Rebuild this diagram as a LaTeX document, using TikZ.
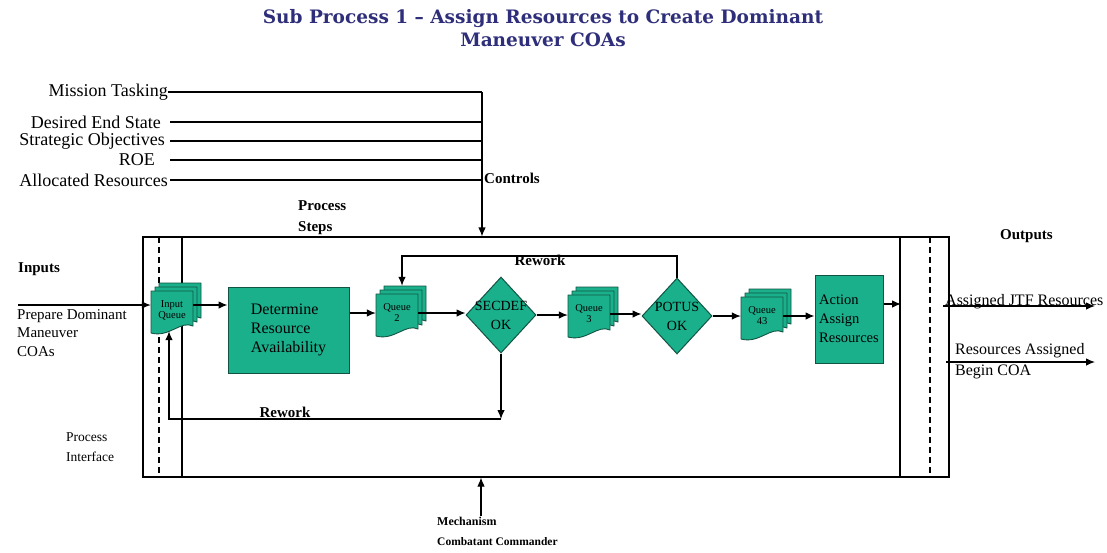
\documentclass[tikz,border=0pt]{standalone}
\usepackage{fontspec}
\setmainfont{Liberation Serif}
\newfontfamily\titlefont{DejaVu Serif}
\usetikzlibrary{arrows.meta,shapes.geometric}

\definecolor{stepfill}{RGB}{26,176,140}
\definecolor{stepline}{RGB}{18,84,66}
\definecolor{titleblue}{RGB}{46,46,122}

\tikzset{
  wire/.style={line width=1.1pt},
  arr/.style={wire,-{Latex[length=9pt,width=7.5pt]}},
  qpage/.style={fill=stepfill,draw=stepline,line width=0.9pt,line join=round},
  qtext/.style={inner sep=0pt,minimum width=42pt,minimum height=42pt,align=center,
    font=\fontsize{10.5}{11}\selectfont},
  stepbox/.style={draw=stepline,fill=stepfill,line width=1pt,inner sep=0pt,align=left},
  decision/.style={diamond,draw=stepline,fill=stepfill,line width=1pt,inner sep=0pt,
    minimum width=70pt,minimum height=76pt},
  ctrl/.style={anchor=east,inner sep=0pt,font=\fontsize{18}{20}\selectfont},
  tag/.style={inner sep=0pt,font=\bfseries\fontsize{15}{21}\selectfont,align=left},
  plain/.style={inner sep=0pt,font=\fontsize{15}{18.5}\selectfont,align=left},
}

% queue: stack of three document pages; #1 name, #2 left x, #3 top y of the front page, #4 text
\newcommand\queuestack[4]{%
  \foreach \d in {8,4,0}{%
    \draw[qpage] ({#2+\d},{#3-\d}) -- ({#2+\d+42},{#3-\d}) -- ({#2+\d+42},{#3-\d+35})
      .. controls ({#2+\d+30},{#3-\d+29}) and ({#2+\d+18},{#3-\d+47}) .. ({#2+\d},{#3-\d+42}) -- cycle;
  }
  \node[qtext] (#1) at ({#2+21},{#3+19}) {#4};
  \node[inner sep=0pt,minimum width=42pt,minimum height=42pt] (#1b) at ({#2+29},{#3+13}) {};
}

\begin{document}
\begin{tikzpicture}[x=1pt,y=-1pt]
\useasboundingbox[fill=white] (0,0) rectangle (1107,552);

% title
\node[align=center,text=titleblue,font=\titlefont\bfseries\fontsize{18.5}{23}\selectfont] (title) at (543,28)
  {Sub Process 1 – Assign Resources to Create Dominant\\Maneuver COAs};

% controls
\node[ctrl] (mt) at (168,92) {Mission Tasking};
\node[ctrl] (des) at (161,122) {Desired End State};
\node[ctrl] (so) at (165,141) {Strategic Objectives};
\node[ctrl] (roe) at (155,160) {ROE};
\node[ctrl] (ar) at (168,180) {Allocated Resources};
\coordinate (lx) at (170,0);
\coordinate (cx) at (482,92);
\draw[wire] (mt.east) -- (cx);
\draw[wire] (lx |- des) -- (cx |- des);
\draw[wire] (lx |- so) -- (cx |- so);
\draw[wire] (lx |- roe) -- (cx |- roe);
\draw[wire] (lx |- ar) -- (cx |- ar);
\node[tag,anchor=west] (ctl) at (484,178) {Controls};

\node[tag,anchor=north west] (steps) at (298,200) {Process\\Steps};

% process frame
\node[draw,wire,inner sep=0pt,minimum width=806pt,minimum height=240pt] (proc) at (546,357) {};
\draw[wire,dash pattern=on 6pt off 4pt] (159,237) -- (159,477);
\draw[wire] (182,237) -- (182,477);
\draw[wire] (900,237) -- (900,477);
\draw[wire,dash pattern=on 6pt off 4pt] (930,237) -- (930,477);
\draw[arr] (cx) -- (cx |- proc.north);

% inputs
\node[tag,anchor=west] (inputs) at (18,269) {Inputs};
\node[plain,anchor=north west] (prep) at (17,309) {Prepare Dominant\\Maneuver\\COAs};
\node[plain,anchor=north west,font=\fontsize{13.5}{20}\selectfont] (pif) at (66,432) {Process\\Interface};

% process steps
\queuestack{inq}{151}{291}{Input\\Queue}
\node[stepbox,minimum width=121pt,minimum height=86pt,font=\fontsize{16}{19}\selectfont] (det) at (288.5,330)
  {Determine\\Resource\\Availability};
\queuestack{q2}{376}{294}{Queue\\2}
\node[decision,label={[align=center,font=\fontsize{14}{19}\selectfont]center:SECDEF\\OK}] (sec) at (501,315) {};
\queuestack{q3}{568}{295}{Queue\\3}
\node[decision,label={[align=center,font=\fontsize{14}{19}\selectfont]center:POTUS\\OK}] (pot) at (677,316) {};
\queuestack{q43}{741}{297}{Queue\\43}
\node[stepbox,minimum width=68pt,minimum height=88pt,font=\fontsize{14.5}{19}\selectfont] (act) at (849,319)
  {Action\\Assign\\Resources};

% flow
\coordinate (inS) at (18,305);
\coordinate (rowIn) at (0,305);
\draw[arr] (inS) -- (inS -| inq.west);
\draw[arr] (inq.east |- rowIn) -- (det.west |- rowIn);
\draw[arr] (det.east |- q2.west) -- (q2.west);
\draw[arr] (q2.east) -- (q2.east -| sec.west);
\draw[arr] (sec.east) -- (sec.east -| q3.west);
\draw[arr] (q3.east) -- (q3.east -| pot.west);
\draw[arr] (pot.east) -- (pot.east -| q43.west);
\draw[arr] (q43.east) -- (q43.east -| act.west);
\coordinate (outA) at (901,304);
\draw[arr] (act.east |- outA) -- (outA);

% rework loops
\coordinate (rwT1) at (677,256);
\coordinate (rwT2) at (402,256);
\draw[arr] (pot.north) -- (rwT1) -- (rwT2) -- (rwT2 |- q2b.north);
\node[tag] (rw1) at (540,260) {Rework};
\coordinate (rwB1) at (501,419);
\coordinate (rwB2) at (169,419);
\draw[arr] (sec.south) -- (rwB1);
\draw[arr] (rwB1) -- (rwB2) -- (rwB2 |- inq.south);
\node[tag] (rw2) at (285,412) {Rework};

% outputs
\node[tag,anchor=west] (outputs) at (1000,236) {Outputs};
\coordinate (o1a) at (943,306);
\coordinate (o1b) at (1095,306);
\draw[arr] (o1a) -- (o1b);
\node[plain,anchor=base west,font=\fontsize{16}{20}\selectfont] (t1) at (945,305) {Assigned JTF Resources};
\coordinate (o2a) at (946,362);
\coordinate (o2b) at (1095,362);
\draw[arr] (o2a) -- (o2b);
\node[plain,anchor=west,font=\fontsize{16}{21}\selectfont] (t2) at (955,361) {Resources Assigned\\Begin COA};

% mechanism
\node[tag,anchor=north west,font=\bfseries\fontsize{12}{20}\selectfont] (mech) at (437,517) {Mechanism\\\fontsize{11.5}{20}\selectfont Combatant Commander};
\coordinate (mb) at (481,516);
\draw[arr] (mb) -- (mb |- proc.south);
\end{tikzpicture}
\end{document}
